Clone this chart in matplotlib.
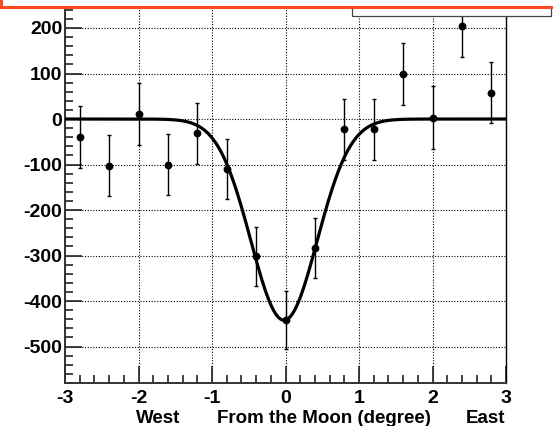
import numpy as np
import matplotlib
matplotlib.use("Agg")
from matplotlib import pyplot as plt
from matplotlib.patches import Rectangle
from matplotlib.ticker import MultipleLocator

# angular offset from the Moon (degree) and event deficit with errors
offset = [-2.8, -2.4, -2.0, -1.6, -1.2, -0.8, -0.4, 0.0,
          0.4, 0.8, 1.2, 1.6, 2.0, 2.4, 2.8]
counts = [-40, -103, 12, -101, -31, -109, -302, -441,
          -284, -23, -23, 99, 3, 205, 58]
errors = [68, 67, 68, 67, 67, 66, 64, 64,
          66, 68, 67, 68, 69, 69, 67]

# gaussian fit parameters
fit_amp = -442
fit_mean = -0.02
fit_sigma = 0.45

plt.rcParams['font.family'] = ['Liberation Sans', 'DejaVu Sans']
plt.rcParams['axes.unicode_minus'] = False

fig = plt.figure(figsize=(5.53, 4.26), dpi=100)
ax = fig.add_axes([65/553, 43/426, 441/553, 383/426])

xs = np.linspace(-3, 3, 600)
ax.plot(xs, fit_amp*np.exp(-(xs - fit_mean)**2/(2*fit_sigma**2)),
        color='black', lw=2.3, zorder=3)

ax.errorbar(offset, counts, yerr=errors, fmt='o', color='black',
            ms=4.6, elinewidth=1.0, capsize=1.6, capthick=1.0, zorder=4)

ax.set_xlim(-3, 3)
ax.set_ylim(-580, 261.5)

ax.xaxis.set_major_locator(MultipleLocator(1))
ax.xaxis.set_minor_locator(MultipleLocator(0.2))
ax.yaxis.set_major_locator(MultipleLocator(100))
ax.yaxis.set_minor_locator(MultipleLocator(20))

ax.tick_params(which='both', direction='in', top=False, right=False, color='#222222')
ax.tick_params(which='major', length=12, width=1.2)
ax.tick_params(which='minor', length=6, width=1.2)
ax.tick_params(axis='y', pad=2)
ax.tick_params(axis='x', pad=5)
for lab in ax.get_xticklabels() + ax.get_yticklabels():
    lab.set_fontweight('bold')
    lab.set_fontsize(14)

ax.grid(True, which='major', color='black', linestyle=(0, (1, 1.5)), lw=0.8)
ax.set_axisbelow(True)

ax.spines['top'].set_visible(False)
for s in ['left', 'bottom']:
    ax.spines[s].set_linewidth(1.4)
    ax.spines[s].set_color('#333333')
ax.spines['right'].set_linewidth(1.0)

# axis title pieces, ROOT style
fig.text(136/553, 3/426, 'West', fontsize=13.5, fontweight='bold', ha='left', va='baseline')
fig.text(217/553, 3/426, 'From the Moon (degree)', fontsize=13.5, fontweight='bold', ha='left', va='baseline')
fig.text(505/553, 3/426, 'East', fontsize=13.5, fontweight='bold', ha='right', va='baseline')

# stats box (cropped) and highlight frame
fig.patches.append(Rectangle((352/553, (426-15.5)/426), 199/553, 20/426,
                             transform=fig.transFigure, facecolor='white',
                             edgecolor='#444444', lw=0.9, zorder=10))
fig.patches.append(Rectangle((1/553, (426-6.5)/426), 560/553, 20/426,
                             transform=fig.transFigure, facecolor='white',
                             edgecolor='#ff4a1c', lw=2.2, zorder=11))

fig.savefig('out.png', dpi=100)
